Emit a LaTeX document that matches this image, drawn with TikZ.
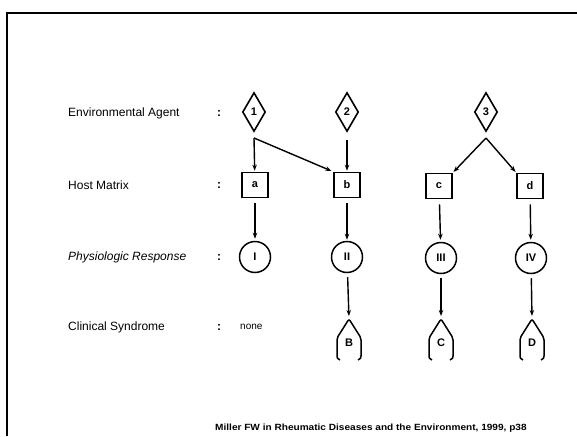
\documentclass[tikz,border=0pt]{standalone}
\usepackage{fontspec}
\usepackage{graphicx}
\setmainfont{Liberation Sans}
\usetikzlibrary{shapes.geometric,arrows.meta}
\begin{document}
\begin{tikzpicture}[x=1pt,y=-1pt,
  lbl/.style={anchor=west,inner sep=0,font=\fontsize{12}{14}\selectfont},
  colon/.style={inner sep=0,font=\fontsize{12}{14}\selectfont\bfseries},
  agent/.style={diamond,draw,line width=1.6pt,minimum width=23pt,minimum height=39pt,inner sep=0,font=\fontsize{11}{13}\selectfont\bfseries},
  host/.style={rectangle,draw,line width=1.6pt,minimum width=26pt,minimum height=25pt,inner sep=0,font=\fontsize{11}{13}\selectfont\bfseries},
  resp/.style={circle,draw,line width=1.5pt,minimum size=31pt,inner sep=0,font=\fontsize{11}{13}\selectfont\bfseries},
  arr/.style={line width=1.4pt,-{Stealth[length=6pt,width=4.5pt]}},
  dropshape/.pic={
    \draw[line width=1.5pt,rounded corners=2pt] (-9,20) .. controls (-12,18) .. (-12,14) -- (-12,-2) -- (0,-21) -- (12,-2) -- (12,14) .. controls (12,18) .. (9,20);
    \node[inner sep=0,font=\fontsize{11}{13}\selectfont\bfseries] (-c) at (0,3) {#1};
    \coordinate (-top) at (0,-21);
  }]
\useasboundingbox (0,0) rectangle (577,436);
% frame
\draw[line width=2pt] (7,436) -- (7,13) -- (577,13);

% row labels
\node[lbl] (l1) at (68,113) {Environmental Agent};
\node[lbl] (l2) at (68,185) {Host Matrix};
\node[lbl] (l3) at (68,257) {\itshape Physiologic Response};
\node[lbl] (l4) at (68,327) {Clinical Syndrome};
\node[colon] (c1) at (219,113) {:};
\node[colon] (c2) at (219,185) {:};
\node[colon] (c3) at (219,257) {:};
\node[colon] (c4) at (219,327) {:};
\node[inner sep=0,anchor=west,font=\fontsize{10}{12}\selectfont] (none) at (240,327) {none};

% agents
\node[agent] (A1) at (254,112) {1};
\node[agent] (A2) at (347,112) {2};
\node[agent] (A3) at (486,112) {3};

% host matrix
\node[host] (a) at (255,185) {a};
\node[host] (b) at (347,185) {b};
\node[host] (c) at (439,186) {c};
\node[host] (d) at (530,186) {d};

% responses
\node[resp] (I) at (255,257) {I};
\node[resp] (II) at (347,257) {II};
\node[resp] (III) at (441,258) {III};
\node[resp] (IV) at (531,258) {IV};

% syndromes
\pic (B) at (349,340) {dropshape=B};
\pic (C) at (441,340) {dropshape=C};
\pic (D) at (532,340) {dropshape=D};

% connectors
\coordinate (j1) at (254,138);
\coordinate (j3) at (486,138);
\draw[arr,shorten >=1pt] (j1) -- (a);
\draw[arr,shorten >=2pt] (j1) -- (b.north west);
\draw[arr,shorten <=8pt,shorten >=1pt] (A2) -- (b);
\draw[arr,shorten >=1pt] (j3) -- (c.north east);
\draw[arr,shorten >=1pt] (j3) -- (d.north west);
\draw[arr,shorten <=5pt,shorten >=2pt] (a) -- (I);
\draw[arr,shorten <=5pt,shorten >=1pt] (b) -- (II);
\draw[arr,shorten <=5pt,shorten >=2pt] (c) -- (III);
\draw[arr,shorten <=5pt,shorten >=2pt] (d) -- (IV);
\draw[arr,shorten <=4pt,shorten >=3pt] (II) -- (B-top);
\draw[arr,shorten <=4pt,shorten >=3pt] (III) -- (C-top);
\draw[arr,shorten <=4pt,shorten >=3pt] (IV) -- (D-top);

% source
\node[inner sep=0,anchor=west,font=\fontsize{9}{11}\selectfont\bfseries] (src) at (215,428) {\scalebox{1.12}[1]{Miller FW in Rheumatic Diseases and the Environment, 1999, p38}};
\end{tikzpicture}
\end{document}
